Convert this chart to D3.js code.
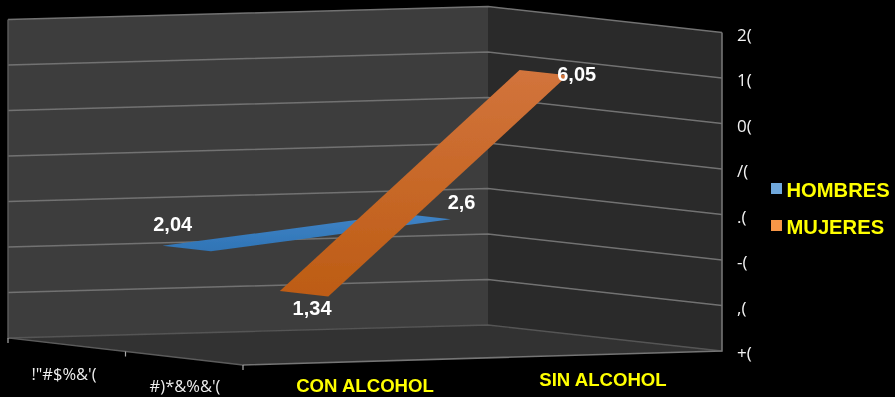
<!DOCTYPE html>
<html><head><meta charset="utf-8">
<script src="https://cdn.jsdelivr.net/npm/d3@7"></script>
<style>html,body{margin:0;padding:0;background:#000}svg{display:block}</style>
</head><body><svg id="c" width="895" height="397" font-family="Liberation Sans, Arial, sans-serif"></svg>
<script>
const categories = ["CON ALCOHOL", "SIN ALCOHOL"];
const seriesNames = ["HOMBRES", "MUJERES"];
const hombres = [2.04, 2.6];
const mujeres = [1.34, 6.05];
const valueLabels = [["2,04", "2,6"], ["1,34", "6,05"]];
const valueTicks = [0, 1, 2, 3, 4, 5, 6, 7];
const valueTickLabels = ["+(", ",(", "-(", ".(", "/(", "0(", "1(", "2("];
const depthLabels = ["!\"#$%&'(", "#)*&%&'("];

const svg = d3.select("#c");
const backX = d3.scaleLinear().domain([0,1]).range([8,488]);
const frontX = d3.scaleLinear().domain([0,1]).range([243,722]);
const backY = d3.scaleLinear().domain([0,1]).range([338,325]);
const frontY = d3.scaleLinear().domain([0,1]).range([365,351]);
const h = d3.scaleLinear().domain([0,7]).range([0,318.5]);
const catU = d3.scalePoint().domain(categories).range([0.25,0.75]);
const serV = d3.scalePoint().domain(seriesNames).range([0.25,0.75]);
const P = (u,v,val=0) => [
  d3.interpolateNumber(backX(u),frontX(u))(v),
  d3.interpolateNumber(backY(u),frontY(u))(v) - h(val)
];
const line = d3.line();
const defs = svg.append("defs");
const grad = (id,stops,y1,y2)=>{const g=defs.append("linearGradient").attr("id",id).attr("gradientUnits","userSpaceOnUse")
  .attr("x1",0).attr("x2",0).attr("y1",y1).attr("y2",y2);
  stops.forEach(([o,c])=>g.append("stop").attr("offset",o).attr("stop-color",c));};
grad("orange",[[0,"#d2743c"],[1,"#bd5c14"]],70,295);
grad("blue",[[0,"#3f83c6"],[1,"#2f74b5"]],215,252);
defs.append("filter").attr("id","soft").append("feGaussianBlur").attr("stdDeviation",0.45);

const plot = svg.append("g").attr("filter","url(#soft)");
plot.append("path").attr("d",line([P(0,0,0),P(1,0,0),P(1,0,7),P(0,0,7)])+"Z").attr("fill","#3e3e3e");
plot.append("path").attr("d",line([P(1,0,0),P(1,1,0),P(1,1,7),P(1,0,7)])+"Z").attr("fill","#292929");
plot.append("path").attr("d",line([P(0,0,0),P(1,0,0),P(1,1,0),P(0,1,0)])+"Z").attr("fill","#333333");

plot.append("g").selectAll("path").data(valueTicks.slice(1)).join("path")
  .attr("d",d=>line([P(0,0,d),P(1,0,d),P(1,1,d)]))
  .attr("fill","none").attr("stroke","#727272").attr("stroke-width",1.5);
plot.append("path").attr("d",line([P(0,0,0),P(1,0,0),P(1,1,0)]))
  .attr("fill","none").attr("stroke","#555").attr("stroke-width",1.3);
plot.append("path").attr("d",line([P(0,0,7),P(0,0,0),P(0,1,0)]))
  .attr("fill","none").attr("stroke","#5c5c5c").attr("stroke-width",1.4);
plot.append("path").attr("d",line([P(0,1,0),P(1,1,0),P(1,1,7)]))
  .attr("fill","none").attr("stroke","#747474").attr("stroke-width",1.6);
plot.append("g").selectAll("path").data([0,0.5,1]).join("path")
  .attr("d",d=>{const p=P(0,d);return line([p,[p[0],p[1]+5]]);})
  .attr("stroke","#aaa").attr("stroke-width",1.2);

const halfDepth=0.103;
const ribbon=(vals,name)=>{const v=serV(name);
  return line([P(catU(categories[0]),v-halfDepth,vals[0]),P(catU(categories[1]),v-halfDepth,vals[1]),
               P(catU(categories[1]),v+halfDepth,vals[1]),P(catU(categories[0]),v+halfDepth,vals[0])])+"Z";};
plot.append("path").attr("d",ribbon(hombres,seriesNames[0])).attr("fill","url(#blue)");
plot.append("path").attr("d",ribbon(mujeres,seriesNames[1])).attr("fill","url(#orange)");

const labels = svg.append("g").attr("filter","url(#soft)");
const labelOffsets=[[[-14,-25],[35,-15]],[[8,14],[33,1]]];
[hombres,mujeres].forEach((vals,s)=>vals.forEach((val,c)=>{
  const p=P(catU(categories[c]),serV(seriesNames[s]),val);
  labels.append("text").attr("x",p[0]+labelOffsets[s][c][0]).attr("y",p[1]+labelOffsets[s][c][1]+7)
    .attr("text-anchor","middle").attr("fill","#fff").attr("font-weight","bold").attr("font-size",20)
    .text(valueLabels[s][c]);
}));

labels.append("g").selectAll("text").data(valueTicks).join("text")
  .attr("x",737).attr("y",d=>P(1,1,d)[1]+8)
  .attr("fill","#f2f2f2").attr("font-size",17).attr("font-family","Open Sans, sans-serif")
  .text((d,i)=>valueTickLabels[i]);

const depthPos=[[64,380],[185,392]];
labels.append("g").selectAll("text").data(depthLabels).join("text")
  .attr("x",(d,i)=>depthPos[i][0]).attr("y",(d,i)=>depthPos[i][1])
  .attr("text-anchor","middle").attr("fill","#eee").attr("font-size",16.5)
  .attr("font-family","Open Sans, sans-serif").text(d=>d);

const catPos=[[365,392],[603,386]];
labels.append("g").selectAll("text").data(categories).join("text")
  .attr("x",(d,i)=>catPos[i][0]).attr("y",(d,i)=>catPos[i][1])
  .attr("text-anchor","middle").attr("fill","#ffff00").attr("font-weight","bold").attr("font-size",18.6).text(d=>d);

const legendColors=["#6fa8dc","#f79646"], legendY=[189,226];
seriesNames.forEach((n,i)=>{
  labels.append("rect").attr("x",771).attr("y",legendY[i]-6).attr("width",11).attr("height",11).attr("fill",legendColors[i]);
  labels.append("text").attr("x",786.5).attr("y",legendY[i]+8).attr("fill","#ffff00").attr("font-weight","bold").attr("font-size",20.2).text(n);
});
</script></body></html>
